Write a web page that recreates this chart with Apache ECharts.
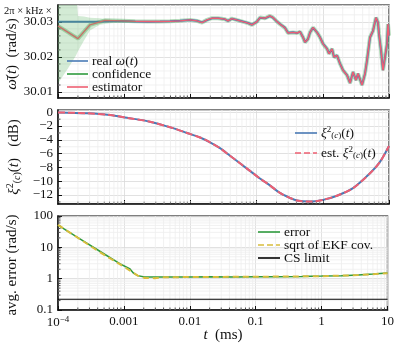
<!DOCTYPE html>
<html><head><meta charset="utf-8">
<script src="https://cdn.jsdelivr.net/npm/echarts@6/dist/echarts.min.js"></script>
<style>html,body{margin:0;padding:0;background:#fff}#c{width:397px;height:347px}</style>
</head><body><div id="c"></div>
<script>
// ---------- top panel: frequency estimate ----------
const tTop = [1e-4, 2.0e-4, 3.04e-4, 5.13e-4, 9.27e-4, 1.46e-3, 2.29e-3, 3.47e-3, 4.92e-3, 6.97e-3,
  9.86e-3, 0.0126, 0.0150, 0.0178, 0.0212, 0.0261, 0.0333, 0.0370, 0.0425, 0.0561,
  0.0741, 0.0853, 0.1014, 0.1125, 0.134, 0.159, 0.177, 0.203, 0.225, 0.268,
  0.298, 0.355, 0.408, 0.453, 0.502, 0.538, 0.597, 0.641, 0.711, 0.817,
  0.907, 1.007, 1.157, 1.241, 1.377, 1.476, 1.639, 1.820, 2.019, 2.322,
  2.577, 2.860, 3.175, 3.40, 3.91, 4.34, 4.65, 5.16, 5.73, 6.36,
  6.82, 7.06, 7.57, 8.11, 8.70, 9.33, 9.66, 10];
const omegaEst = [30.02887, 30.02521, 30.02915, 30.03042, 30.03028, 30.03014, 30.03008, 30.03008, 30.03014, 30.03028,
  30.03056, 30.03028, 30.02980, 30.03056, 30.03104, 30.03104, 30.03076, 30.03028, 30.03093, 30.03028,
  30.02963, 30.02915, 30.03008, 30.03121, 30.03104, 30.03169, 30.03121, 30.03008, 30.02935, 30.02831,
  30.02682, 30.02699, 30.02682, 30.02718, 30.02558, 30.02417, 30.02513, 30.02699, 30.02839, 30.02699,
  30.02558, 30.02372, 30.02231, 30.02090, 30.02231, 30.01994, 30.02042, 30.01808, 30.01620, 30.01479,
  30.01254, 30.01572, 30.01338, 30.01527, 30.01197, 30.01527, 30.01901, 30.02558, 30.02746, 30.03121,
  30.02980, 30.02654, 30.02183, 30.01620, 30.01994, 30.02372, 30.02935, 30.02606];
const omegaReal = [30.0300, 30.0300, 30.0300, 30.0301, 30.03025, 30.03012, 30.03005, 30.03010, 30.03016, 30.03030,
  30.03052, 30.03030, 30.02985, 30.03050, 30.03100, 30.03106, 30.03072, 30.03030, 30.03090, 30.03030,
  30.02966, 30.02918, 30.03005, 30.03118, 30.03100, 30.03165, 30.03118, 30.03012, 30.02938, 30.02835,
  30.02686, 30.02702, 30.02680, 30.02722, 30.02562, 30.02420, 30.02510, 30.02695, 30.02835, 30.02702,
  30.02562, 30.02376, 30.02235, 30.02094, 30.02228, 30.01998, 30.02046, 30.01812, 30.01624, 30.01482,
  30.01258, 30.01568, 30.01342, 30.01523, 30.01201, 30.01523, 30.01897, 30.02554, 30.02742, 30.03117,
  30.02976, 30.02650, 30.02187, 30.01624, 30.01990, 30.02368, 30.02931, 30.02610];
const tBand  = [1e-4, 1.42e-4, 1.87e-4, 2.0e-4, 2.47e-4, 3.04e-4, 4.31e-4, 6.1e-4, 1.03e-3, 1.5e-3];
const bandLo = [30.0124, 30.0168, 30.0204, 30.0216, 30.0247, 30.0275, 30.0292, 30.0296, 30.0298, 30.0299];
const bandHi = [30.0450, 30.0450, 30.0400, 30.0317, 30.0315, 30.0312, 30.0310, 30.0307, 30.0305, 30.0303];

// ---------- middle panel: squeezing ----------
const tXi = [1e-4, 2.74e-4, 6.1e-4, 1.10e-3, 2.45e-3, 5.46e-3, 8.89e-3, 0.0140, 0.0198, 0.0280,
  0.0397, 0.0561, 0.0793, 0.1125, 0.159, 0.225, 0.317, 0.408, 0.641, 1.007,
  1.639, 2.86, 5.16, 7.31, 10];
const xiReal = [-0.02, -0.15, -0.4, -0.8, -1.36, -2.3, -3.0, -3.65, -4.35, -5.2,
  -6.3, -7.4, -8.5, -9.6, -10.6, -11.7, -12.4, -12.8, -12.95, -12.7,
  -12.1, -11.0, -8.85, -7.2, -4.9];
const xiEst = [-0.02, -0.15, -0.4, -0.8, -1.36, -2.3, -3.0, -3.65, -4.35, -5.2,
  -6.3, -7.4, -8.5, -9.6, -10.6, -11.7, -12.4, -12.8, -12.95, -12.7,
  -12.1, -11.0, -8.85, -7.2, -4.9];

// ---------- bottom panel: average error ----------
const tErr = [1e-4, 2.15e-4, 4.31e-4, 8.65e-4, 1.22e-3, 1.40e-3, 1.62e-3, 2.06e-3, 2.9e-3, 5e-3,
  0.01, 0.02, 0.05, 0.1, 0.2, 0.5, 1, 2, 3.6, 6, 10];
const errVals = [51, 18.7, 7.5, 3.0, 2.1, 1.5, 1.25, 1.13, 1.12, 1.14,
  1.13, 1.15, 1.14, 1.16, 1.15, 1.18, 1.21, 1.25, 1.32, 1.40, 1.53];
const tCov = [1e-4, 2.15e-4, 4.31e-4, 6e-4, 8.65e-4, 1.22e-3, 1.62e-3, 2.06e-3, 2.9e-3, 4e-3,
  0.01, 0.1, 1, 3.6, 10];
const covVals = [52, 18.3, 7.0, 4.6, 2.9, 1.85, 1.25, 1.05, 1.04, 1.1,
  1.13, 1.15, 1.2, 1.3, 1.5];
const tCs = [1e-4, 10];
const csVals = [0.22, 0.22];

// ---------- tick labels ----------
const xTickLabels = {'-4': '{b|10}{sup|−4}', '-3': '0.001', '-2': '0.01', '-1': '0.1', '0': '1', '1': '10'};
const logYLabels = {'-1': '0.1', '0': '1', '1': '10', '2': '100'};

const FONT = 'Liberation Serif';
const C_BLUE = '#4a7ab5', C_RED = '#ee5f72', C_GREEN = '#2f9a3e', C_YEL = '#d8bd3c';

const zip = (a, b) => a.map((v, i) => [v, b[i]]);

// axis decoration positions (minor ticks/grid)
const minorX = [];
for (let n = -4; n <= 0; n++) for (let k = 2; k <= 9; k++) minorX.push(k * Math.pow(10, n));
const minorYTop = [];
for (let v = 30.012; v < 30.0348; v += 0.002) { const r = Math.round(v * 1000) / 1000; if (Math.round(r * 1000) % 10 !== 0) minorYTop.push(r); }
const minorYMid = [];
for (let v = -13; v <= 0; v += 1) { if (v % 2 !== 0) minorYMid.push(v); }
const minorYBot = [];
for (let n = -1; n <= 1; n++) for (let k = 2; k <= 9; k++) minorYBot.push(k * Math.pow(10, n));

function decorData(midY, minorY, xRef) {
  return minorX.map(x => [x, midY, 0]).concat(minorY.map(y => [xRef, y, 1]));
}
function decorRender(params, api) {
  const cs = params.coordSys;
  const p = api.coord([api.value(0), api.value(1)]);
  const kind = api.value(2);
  if (kind === 0) {
    return {type: 'group', children: [
      {type: 'line', shape: {x1: p[0], y1: cs.y, x2: p[0], y2: cs.y + cs.height}, style: {stroke: '#eeeeee', lineWidth: 0.8}},
      {type: 'line', shape: {x1: p[0], y1: cs.y + cs.height, x2: p[0], y2: cs.y + cs.height - 2.5}, style: {stroke: '#222', lineWidth: 0.8}}
    ]};
  }
  return {type: 'group', children: [
    {type: 'line', shape: {x1: cs.x, y1: p[1], x2: cs.x + cs.width, y2: p[1]}, style: {stroke: '#eeeeee', lineWidth: 0.8}},
    {type: 'line', shape: {x1: cs.x, y1: p[1], x2: cs.x + 2.5, y2: p[1]}, style: {stroke: '#222', lineWidth: 0.8}}
  ]};
}

const grids = [
  {left: 58, top: 5, width: 331, height: 93},
  {left: 58, top: 110, width: 331, height: 94},
  {left: 58, top: 216, width: 331, height: 94}
].map(g => Object.assign(g, {show: true, borderColor: '#555', borderWidth: 1.5, backgroundColor: 'transparent'}));

function xAx(i) {
  return {
    type: 'log', logBase: 10, min: 1e-4, max: 10, gridIndex: i, splitNumber: 5,
    axisLine: {show: true, onZero: false, lineStyle: {color: '#111', width: 1.5}},
    axisTick: {show: true, inside: true, length: 4, lineStyle: {color: '#111', width: 1}},
    splitLine: {show: true, lineStyle: {color: '#d9d9d9', width: 0.8}},
    axisLabel: {
      show: i === 2, margin: 5, color: '#111', fontFamily: FONT, fontSize: 13,
      formatter: v => { const e = Math.round(Math.log10(v)); return xTickLabels[String(e)] || ''; },
      rich: {b: {fontFamily: FONT, fontSize: 13, color: '#111'}, sup: {fontFamily: FONT, fontSize: 9, color: '#111', verticalAlign: 'top', padding: [0, 0, 6, 0]}}
    }
  };
}
const yCommon = {
  axisLine: {show: true, onZero: false, lineStyle: {color: '#111', width: 1.5}},
  axisTick: {show: true, inside: true, length: 4, lineStyle: {color: '#111', width: 1}},
  splitLine: {show: true, lineStyle: {color: '#d9d9d9', width: 0.8}}
};
const yLabel = {margin: 5, color: '#111', fontFamily: FONT, fontSize: 13, showMinLabel: false, showMaxLabel: false};

const bandPoly = function (params, api) {
  if (params.dataIndex !== 0) return null;
  const pts = [];
  for (let i = 0; i < tBand.length; i++) pts.push(api.coord([tBand[i], bandHi[i]]));
  for (let i = tBand.length - 1; i >= 0; i--) pts.push(api.coord([tBand[i], bandLo[i]]));
  return {type: 'polygon', shape: {points: pts}, style: {fill: 'rgba(70,170,80,0.24)'}};
};

const option = {
  animation: false,
  backgroundColor: '#fff',
  grid: grids,
  xAxis: [xAx(0), xAx(1), xAx(2)],
  yAxis: [
    Object.assign({type: 'value', gridIndex: 0, min: 30.0083, max: 30.0348, splitNumber: 2,
      axisLabel: Object.assign({formatter: v => v.toFixed(2)}, yLabel)}, yCommon),
    Object.assign({type: 'value', gridIndex: 1, min: -13.3, max: 0.33, splitNumber: 7,
      axisLabel: Object.assign({formatter: v => (v < 0 ? '−' + Math.abs(v) : String(v))}, yLabel)}, yCommon),
    Object.assign({type: 'log', logBase: 10, gridIndex: 2, min: 0.1, max: 100,
      axisLabel: Object.assign({}, yLabel, {showMinLabel: true, showMaxLabel: true, formatter: v => logYLabels[String(Math.round(Math.log10(v)))] || ''})}, yCommon)
  ],
  series: [
    {type: 'custom', xAxisIndex: 0, yAxisIndex: 0, z: 1, silent: true, renderItem: decorRender, data: decorData(30.02, minorYTop, 1e-3), encode: {x: 0, y: 1}},
    {type: 'custom', xAxisIndex: 1, yAxisIndex: 1, z: 1, silent: true, renderItem: decorRender, data: decorData(-6, minorYMid, 1e-3), encode: {x: 0, y: 1}},
    {type: 'custom', xAxisIndex: 2, yAxisIndex: 2, z: 1, silent: true, renderItem: decorRender, data: decorData(1, minorYBot, 1e-3), encode: {x: 0, y: 1}},
    // top
    {name: 'confidence', type: 'line', xAxisIndex: 0, yAxisIndex: 0, z: 2, data: zip(tTop, omegaEst), symbol: 'none',
      lineStyle: {color: C_GREEN, width: 4, opacity: 0.35}},
    {name: 'real', type: 'line', xAxisIndex: 0, yAxisIndex: 0, z: 3, data: zip(tTop, omegaReal), symbol: 'none',
      lineStyle: {color: C_BLUE, width: 2}},
    {name: 'estimator', type: 'line', xAxisIndex: 0, yAxisIndex: 0, z: 4, data: zip(tTop, omegaEst), symbol: 'none',
      lineStyle: {color: C_RED, width: 1.4}},
    {type: 'custom', xAxisIndex: 0, yAxisIndex: 0, z: 5, clip: true, silent: true, renderItem: bandPoly,
      data: zip(tBand, bandLo), encode: {x: 0, y: 1}},
    // middle
    {name: 'xi', type: 'line', xAxisIndex: 1, yAxisIndex: 1, z: 3, data: zip(tXi, xiReal), symbol: 'none', smooth: 0.3,
      lineStyle: {color: C_BLUE, width: 2}},
    {name: 'xiest', type: 'line', xAxisIndex: 1, yAxisIndex: 1, z: 4, data: zip(tXi, xiEst), symbol: 'none', smooth: 0.3,
      lineStyle: {color: C_RED, width: 2, type: [7, 3]}},
    // bottom
    {name: 'error', type: 'line', xAxisIndex: 2, yAxisIndex: 2, z: 3, data: zip(tErr, errVals), symbol: 'none',
      lineStyle: {color: C_GREEN, width: 1.5}},
    {name: 'cov', type: 'line', xAxisIndex: 2, yAxisIndex: 2, z: 4, data: zip(tCov, covVals), symbol: 'none',
      lineStyle: {color: C_YEL, width: 2, type: [6, 4]}},
    {name: 'cs', type: 'line', xAxisIndex: 2, yAxisIndex: 2, z: 4, data: zip(tCs, csVals), symbol: 'none',
      lineStyle: {color: '#000', width: 1.2}}
  ],
  graphic: []
};

const G = option.graphic;
const LF = 13.5;
const txtBase = {fontFamily: FONT, fontSize: LF, fill: '#111'};
const richBase = {
  i: {fontFamily: FONT, fontStyle: 'italic', fontSize: LF, color: '#111'},
  n: {fontFamily: FONT, fontSize: LF, color: '#111'},
  sup: {fontFamily: FONT, fontSize: 9, color: '#111', verticalAlign: 'top', padding: [0, 0, 6, 0]},
  sub: {fontFamily: FONT, fontSize: 9, color: '#111', verticalAlign: 'bottom', padding: [6, 0, 0, 0]},
  si: {fontFamily: FONT, fontSize: 9, fontStyle: 'italic', color: '#111', verticalAlign: 'bottom', padding: [6, 0, 0, 0]}
};
function legendItem(x1, x2, y, color, dash, text) {
  G.push({type: 'line', z: 100, shape: {x1: x1, y1: y, x2: x2, y2: y}, style: {stroke: color, lineWidth: 1.6, lineDash: dash || null}});
  G.push({type: 'text', z: 100, x: x2 + 4, y: y, style: Object.assign({text: text, textVerticalAlign: 'middle', rich: richBase}, txtBase)});
}
legendItem(67, 88, 61, C_BLUE, null, '{n|real }{i|ω}{n|(}{i|t}{n|)}');
legendItem(67, 88, 74, C_GREEN, null, 'confidence');
legendItem(67, 88, 87, C_RED, null, 'estimator');
legendItem(295, 317, 133, C_BLUE, null, '{i|ξ}{sup|2}{sub|(}{si|c}{sub|)}{n|(}{i|t}{n|)}');
legendItem(295, 317, 153, C_RED, [6, 3], '{n|est. }{i|ξ}{sup|2}{sub|(}{si|c}{sub|)}{n|(}{i|t}{n|)}');
legendItem(258, 280, 232, C_GREEN, null, 'error');
legendItem(258, 280, 245, C_YEL, [6, 3], 'sqrt of EKF cov.');
legendItem(258, 280, 258, '#000', null, 'CS limit');

const TF = 15;
G.push({type: 'text', x: 4, y: 11, style: {text: '2π × kHz ×', fontFamily: FONT, fontSize: 10.5, fill: '#111', textVerticalAlign: 'middle'}});
G.push({type: 'text', x: 12, y: 54, rotation: Math.PI / 2, style: Object.assign({text: '{i|ω̄}{n|(}{i|t}{n|)  (rad/s)}', textAlign: 'center', textVerticalAlign: 'middle', rich: {
  i: {fontFamily: FONT, fontStyle: 'italic', fontSize: TF, color: '#111'}, n: {fontFamily: FONT, fontSize: TF, color: '#111'}}}, {fontFamily: FONT, fontSize: TF, fill: '#111'})});
G.push({type: 'text', x: 14, y: 157, rotation: Math.PI / 2, style: Object.assign({text: '{i|ξ}{sup|2}{sub|(}{si|c}{sub|)}{n|(}{i|t}{n|)   (dB)}', textAlign: 'center', textVerticalAlign: 'middle', rich: {
  i: {fontFamily: FONT, fontStyle: 'italic', fontSize: TF, color: '#111'}, n: {fontFamily: FONT, fontSize: TF, color: '#111'},
  sup: {fontFamily: FONT, fontSize: 10, color: '#111', verticalAlign: 'top', padding: [0, 0, 7, 0]},
  sub: {fontFamily: FONT, fontSize: 10, color: '#111', verticalAlign: 'bottom', padding: [7, 0, 0, 0]},
  si: {fontFamily: FONT, fontSize: 10, fontStyle: 'italic', color: '#111', verticalAlign: 'bottom', padding: [7, 0, 0, 0]}}}, {fontFamily: FONT, fontSize: TF, fill: '#111'})});
G.push({type: 'text', x: 12, y: 265, rotation: Math.PI / 2, style: {text: 'avg. error (rad/s)', fontFamily: FONT, fontSize: TF, fill: '#111', textAlign: 'center', textVerticalAlign: 'middle'}});
G.push({type: 'text', x: 223, y: 335, style: {text: '{i|t}{n|  (ms)}', textAlign: 'center', textVerticalAlign: 'middle', rich: {
  i: {fontFamily: FONT, fontStyle: 'italic', fontSize: TF, color: '#111'}, n: {fontFamily: FONT, fontSize: TF, color: '#111'}}, fontFamily: FONT, fontSize: TF, fill: '#111'}});

const chart = echarts.init(document.getElementById('c'), null, {renderer: 'canvas', width: 397, height: 347});
chart.setOption(option);
</script>
</body></html>
